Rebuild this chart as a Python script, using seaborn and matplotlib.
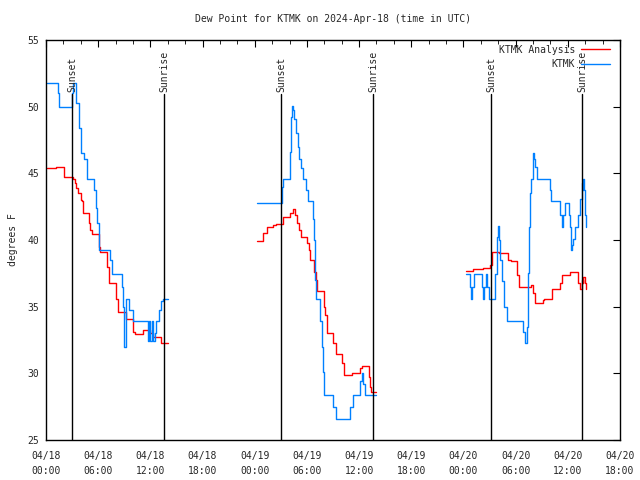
import pandas as pd
import numpy as np
import seaborn as sns
import matplotlib
matplotlib.use("Agg")
import matplotlib.pyplot as plt
import matplotlib.dates as mdates

# hours after 2024-04-18 00:00 UTC and dew point (F), one list per data segment
obs_h1 = [0.1, 1.4, 1.55, 3.0, 3.15, 3.45, 3.8, 4.0, 4.37, 4.7, 5.5, 5.75, 5.9, 6.13, 7.4, 7.55, 8.7, 8.8,
          9.0, 9.15, 9.6, 9.97, 11.7, 11.85, 12.0, 12.2, 12.35, 12.5, 12.7, 13.0, 13.2, 13.4, 14.05]
obs_v1 = [51.8, 51.0, 50.0, 51.0, 51.8, 50.3, 48.4, 46.5, 46.1, 44.6, 43.75, 42.4, 41.3, 39.25, 38.5, 37.45, 36.5, 35.0,
          32.0, 35.6, 34.75, 33.9, 32.4, 33.9, 32.4, 33.9, 32.4, 33.0, 33.9, 34.75, 35.4, 35.6, 35.6]
obs_h2 = [24.3, 27.1, 27.3, 28.1, 28.2, 28.3, 28.45, 28.55, 28.75, 28.95, 29.1, 29.3, 29.6, 29.9, 30.15, 30.7,
          30.8, 30.93, 31.05, 31.5, 31.7, 31.85, 32.0, 33.0, 33.35, 35.0, 35.3, 36.05, 36.3, 36.5, 36.7, 38.0]
obs_v2 = [42.8, 44.0, 44.6, 46.6, 49.25, 50.05, 49.75, 49.1, 48.0, 47.0, 46.1, 45.4, 44.6, 43.75, 42.9, 41.6,
          40.0, 37.0, 35.6, 33.9, 32.0, 30.1, 28.4, 27.5, 26.6, 27.5, 28.4, 29.4, 30.0, 29.2, 28.4, 28.4]
obs_h3 = [48.3, 48.7, 48.85, 49.0, 49.2, 50.1, 50.25, 50.4, 50.6, 50.75, 50.9, 51.65, 51.8, 51.95, 52.1, 52.25,
          52.45, 52.7, 53.0, 54.9, 55.1, 55.25, 55.4, 55.5, 55.6, 55.75, 55.95, 56.1, 56.25, 56.4, 57.9, 58.1,
          59.05, 59.3, 59.5, 59.65, 60.1, 60.2, 60.35, 60.45, 60.6, 60.8, 61.2, 61.45, 61.6, 61.7, 61.8, 61.9,
          62.0, 62.1]
obs_v3 = [37.45, 36.5, 35.6, 36.5, 37.45, 36.5, 35.6, 36.5, 37.45, 36.5, 35.6, 37.45, 40.25, 41.05, 40.0, 38.5,
          36.9, 35.0, 33.9, 33.1, 32.25, 33.5, 37.5, 41.0, 43.5, 44.6, 46.5, 46.1, 45.5, 44.6, 43.75, 42.9,
          41.9, 41.0, 41.9, 42.8, 41.9, 41.0, 39.25, 39.6, 40.1, 41.0, 41.9, 43.1, 44.25, 43.75, 44.6, 43.75,
          41.9, 41.0]

ana_h1 = [0.1, 1.1, 2.1, 3.05, 3.35, 3.5, 3.7, 4.0, 4.1, 4.3, 5.0, 5.1, 5.3, 6.1, 6.2, 7.0, 7.25, 8.0, 8.3,
          9.2, 10.0, 10.2, 11.1, 12.0, 12.3, 13.2, 14.05]
ana_v1 = [45.4, 45.5, 44.75, 44.6, 44.25, 43.9, 43.5, 43.0, 42.9, 42.0, 41.25, 40.75, 40.45, 39.5, 39.1, 38.0,
          36.75, 35.6, 34.6, 34.1, 33.1, 32.95, 33.25, 33.0, 32.75, 32.3, 32.3]
ana_h2 = [24.3, 25.0, 25.4, 26.1, 26.5, 27.2, 27.3, 28.1, 28.4, 28.6, 28.9, 29.1, 29.3, 30.05, 30.2, 30.4,
          30.85, 31.0, 31.2, 32.0, 32.1, 32.3, 33.05, 33.35, 34.05, 34.3, 35.2, 36.1, 36.3, 37.1, 37.25, 37.4, 38.0]
ana_v2 = [39.9, 40.5, 41.0, 41.1, 41.2, 41.6, 41.7, 42.0, 42.3, 41.9, 41.25, 40.75, 40.2, 39.75, 39.25, 38.5,
          37.6, 37.0, 36.2, 35.0, 34.4, 33.05, 32.25, 31.45, 30.75, 29.9, 30.05, 30.4, 30.55, 29.75, 29.0, 28.6, 28.6]
ana_h3 = [48.3, 49.15, 50.25, 51.05, 51.25, 52.1, 53.1, 53.5, 54.15, 54.35, 55.8, 56.0, 56.2, 57.1, 57.3,
          58.2, 59.1, 59.3, 60.2, 61.2, 61.45, 61.6, 61.7, 61.8, 61.95, 62.05]
ana_v3 = [37.7, 37.8, 37.9, 38.1, 39.1, 39.0, 38.5, 38.4, 37.4, 36.5, 36.6, 36.0, 35.3, 35.5, 35.6,
          36.3, 36.8, 37.4, 37.6, 36.75, 36.3, 37.0, 36.75, 37.2, 36.75, 36.3]

sunset_h = [3.0, 27.02, 51.17]
sunrise_h = [13.57, 37.6, 61.63]

start = pd.Timestamp("2024-04-18 00:00")

parts = []
for name, segs in [("KTMK Analysis", [(ana_h1, ana_v1), (ana_h2, ana_v2), (ana_h3, ana_v3)]),
                   ("KTMK", [(obs_h1, obs_v1), (obs_h2, obs_v2), (obs_h3, obs_v3)])]:
    for i, (h, v) in enumerate(segs):
        parts.append(pd.DataFrame({"time": start + pd.to_timedelta(h, unit="h"), "dewpt": v,
                                   "series": name, "seg": i}))
df = pd.concat(parts, ignore_index=True)

sns.set_style("white")
plt.rcParams["font.family"] = ["DejaVu Sans Mono", "DejaVu Sans"]
plt.rcParams["font.size"] = 7

fig = plt.figure(figsize=(6.4, 4.8), dpi=100)
ax = fig.add_axes([46 / 640, 40 / 480, 574 / 640, 400 / 480])

sns.lineplot(data=df, x="time", y="dewpt", hue="series", units="seg", estimator=None,
             hue_order=["KTMK Analysis", "KTMK"], palette=["#ff0000", "#0080ff"],
             drawstyle="steps-post", linewidth=1, ax=ax)

ax.set_xlim(start, start + pd.Timedelta(hours=66))
ax.set_ylim(25, 55)
ax.set_yticks(range(25, 56, 5))
ax.xaxis.set_major_locator(mdates.HourLocator(byhour=range(0, 24, 6)))
ax.xaxis.set_minor_locator(mdates.HourLocator(byhour=range(0, 24, 2)))
ax.xaxis.set_major_formatter(mdates.DateFormatter("%m/%d\n%H:%M"))
ax.tick_params(which="both", direction="in", top=True, right=True, labelsize=7, color="black")
ax.tick_params(which="major", length=5)
ax.tick_params(which="minor", length=3)
ax.tick_params(axis="x", pad=8)
ax.tick_params(axis="y", pad=5)
for s in ax.spines.values():
    s.set_color("black")
    s.set_linewidth(1)

for lab, hours in [("Sunset", sunset_h), ("Sunrise", sunrise_h)]:
    for h in hours:
        t = start + pd.Timedelta(hours=h)
        ax.axvline(t, ymin=0, ymax=0.865, color="black", linewidth=1)
        ax.text(t, 0.87, lab, transform=ax.get_xaxis_transform(), rotation=90,
                ha="center", va="bottom", fontsize=7)

ax.set_xlabel("")
ax.set_ylabel("degrees F", fontsize=7, labelpad=7)
ax.set_title("Dew Point for KTMK on 2024-Apr-18 (time in UTC)", fontsize=7, pad=13)

handles, labels = ax.get_legend_handles_labels()
ax.legend(handles, labels, loc="upper right", bbox_to_anchor=(1 - 5 / 574, 1), frameon=False,
          markerfirst=False, fontsize=7, handlelength=3, borderaxespad=0.1, labelspacing=0.45,
          handletextpad=0.6)

fig.canvas.draw()
for lbl in ax.get_xticklabels():
    lbl.set_linespacing(1.6)

fig.savefig("out.png", dpi=100)
